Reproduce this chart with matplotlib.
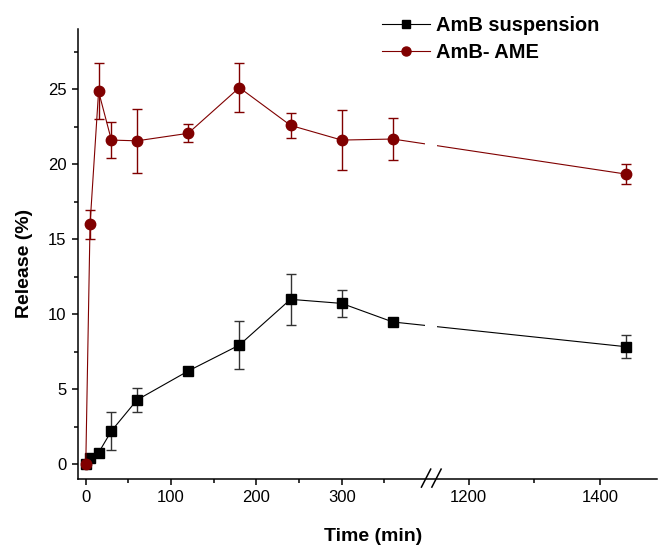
import numpy as np
import matplotlib
matplotlib.use("Agg")
import matplotlib.pyplot as plt
from matplotlib.lines import Line2D

plt.rcParams['font.family'] = ['Liberation Sans', 'DejaVu Sans']
plt.rcParams['font.size'] = 12

# data
time = [0, 5, 15, 30, 60, 120, 180, 240, 300, 360, 1440]
susp = [0, 0.38, 0.75, 2.2, 4.27, 6.2, 7.93, 10.98, 10.71, 9.47, 7.82]
susp_err = [0, 0, 0, 1.28, 0.77, 0, 1.6, 1.69, 0.9, 0, 0.77]
ame = [0, 15.98, 24.85, 21.6, 21.55, 22.05, 25.1, 22.58, 21.6, 21.67, 19.33]
ame_err = [0, 0.98, 1.87, 1.22, 2.15, 0.6, 1.62, 0.85, 2.02, 1.37, 0.67]

xt_major = [0, 100, 200, 300, 1200, 1400]
xt_minor = [50, 150, 250, 350, 1300]

# axis break (Origin style)
b1, b2 = 398.0, 1152.0   # end of left part / start of right part
gap = 14.0               # width of the break in left-axis units
k = 0.769                # scale of right part relative to left part


def fwd(x):
    x = np.asarray(x, dtype=float)
    return np.where(x <= b1, x,
                    np.where(x < b2, b1 + (x - b1) / (b2 - b1) * gap,
                             b1 + gap + (x - b2) * k))


def inv(u):
    u = np.asarray(u, dtype=float)
    return np.where(u <= b1, u,
                    np.where(u < b1 + gap, b1 + (u - b1) / gap * (b2 - b1),
                             b2 + (u - b1 - gap) / k))


fig = plt.figure(figsize=(6.59, 5.46), dpi=100)
ax = fig.add_axes([0.118, 0.1227, 0.879, 0.824])
ax.set_xscale('function', functions=(fwd, inv))

red = '#800000'
ax.errorbar(time, susp, yerr=susp_err, color='k', ecolor='#333333',
            marker='s', markersize=7, linewidth=0.8, elinewidth=1,
            capsize=3.3, capthick=1, zorder=2)
ax.errorbar(time, ame, yerr=ame_err, color=red, ecolor=red,
            marker='o', markersize=7.5, linewidth=0.8, elinewidth=1,
            capsize=3.3, capthick=1, zorder=2.1)

ax.set_xlim(-9.4, 1487)
ax.set_ylim(-1, 29)

# white gap in the lines at the break
ax.axvspan(b1, b2, ymin=0.012, ymax=1, color='white', zorder=3, lw=0)

ax.set_xticks(xt_major)
ax.set_xticks(xt_minor, minor=True)
ax.set_xticklabels([str(v) for v in xt_major])
ax.set_yticks([0, 5, 10, 15, 20, 25])
ax.set_yticks(np.arange(2.5, 29, 5), minor=True)

for s in ['top', 'right']:
    ax.spines[s].set_visible(False)
for s in ['left', 'bottom']:
    ax.spines[s].set_linewidth(1.1)
ax.tick_params(which='major', direction='out', length=4.5, width=1.1, labelsize=12)
ax.tick_params(which='minor', direction='out', length=2.8, width=1.1)

# break marks
xb = (fwd(b1) + gap / 2 - (-9.4)) / (fwd(1487) - (-9.4))
for dx in (-0.009, 0.009):
    ax.plot([xb + dx - 0.008, xb + dx + 0.008], [-0.018, 0.022],
            transform=ax.transAxes, color='k', lw=1.1, clip_on=False, zorder=5)

ax.set_xlabel('Time (min)', fontsize=14, fontweight='bold')
ax.set_ylabel('Release (%)', fontsize=14, fontweight='bold')
ax.xaxis.set_label_coords(0.51, -0.108)
ax.yaxis.set_label_coords(-0.078, 0.479)

handles = [Line2D([], [], color='k', marker='s', markersize=6, lw=0.8),
           Line2D([], [], color=red, marker='o', markersize=6.5, lw=0.8)]
ax.legend(handles, ['AmB suspension', 'AmB- AME'], loc='upper left',
          bbox_to_anchor=(0.58, 0.97), bbox_transform=fig.transFigure,
          frameon=False, prop={'weight': 'bold', 'size': 14.4}, handlelength=2.4,
          handletextpad=0.3, labelspacing=0.4, borderpad=0, borderaxespad=0)

fig.savefig('out.png', dpi=100)
